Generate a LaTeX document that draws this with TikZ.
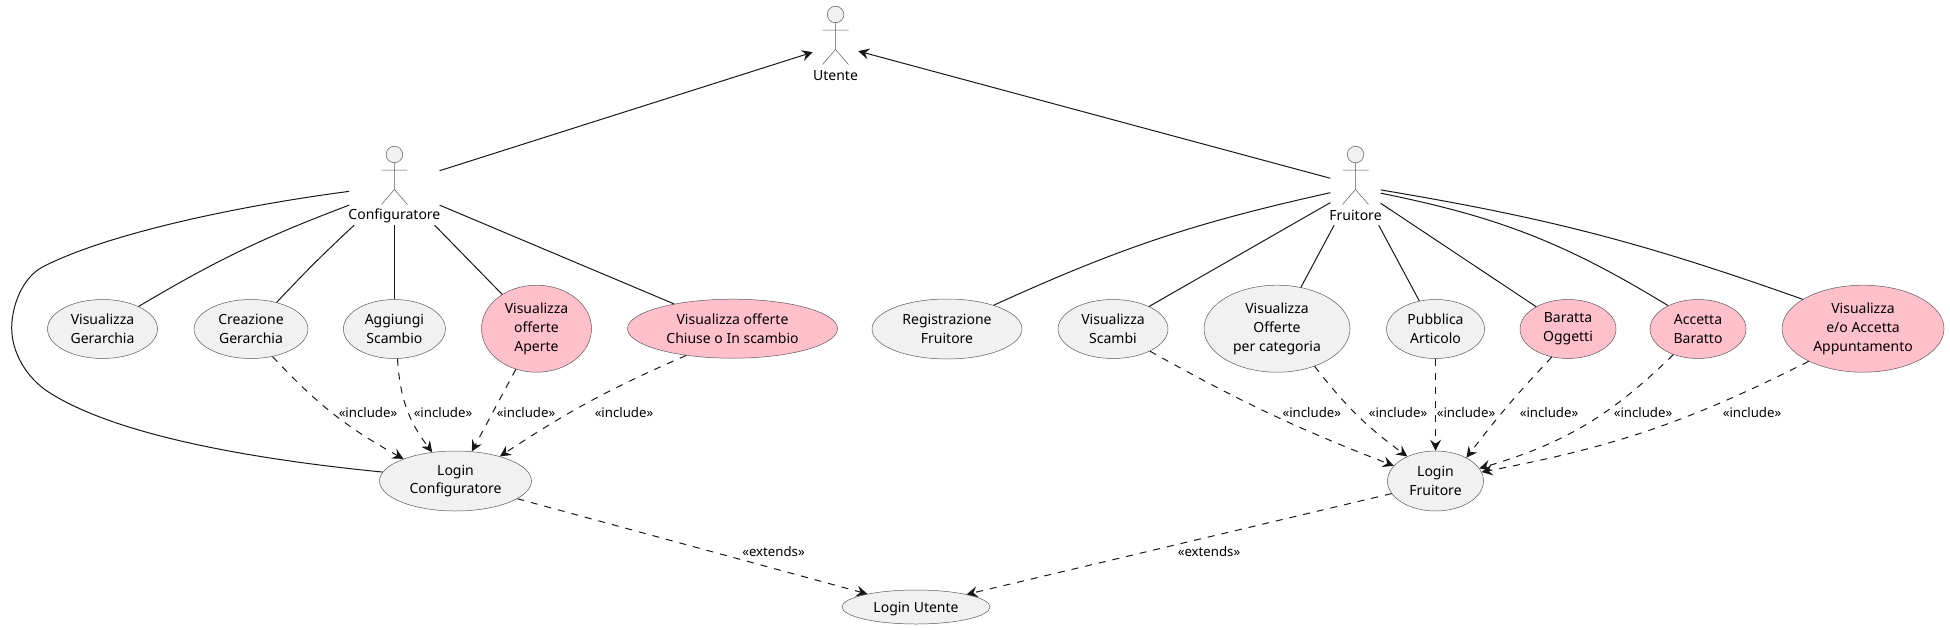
\documentclass[tikz,border=0pt]{standalone}
\usepackage{fontspec}
\setmainfont{Noto Sans}
\usepackage{xcolor}
\usetikzlibrary{arrows.meta,shapes.geometric}
\definecolor{caseline}{HTML}{181818}
\definecolor{caseedge}{HTML}{5A5A5A}
\definecolor{casefill}{HTML}{F1F1F1}
\definecolor{casepink}{HTML}{FFC0CB}
\tikzset{
  usecase/.style ={ellipse, draw=caseedge, fill=casefill, line width=0.5pt, inner sep=0pt},
  pinkcase/.style={usecase, fill=casepink},
  casetext/.style={align=center, inner sep=0pt, font=\fontsize{14}{18.7}\selectfont},
  actorbox/.style={rectangle, minimum height=80pt, inner sep=0pt},
  stereo/.style  ={inner sep=0pt, font=\fontsize{13.2}{16}\selectfont},
  assoc/.style   ={draw=caseline, line width=1pt},
  incl/.style    ={draw=caseline, line width=1pt, dash pattern=on 7pt off 7pt, -{Stealth[length=11pt,width=11pt,inset=4pt]}},
  gen/.style     ={draw=caseline, line width=1pt, -{Stealth[length=11pt,width=11pt,inset=4pt]}},
}
\newcommand{\stickman}[2]{%
  \draw[draw=caseedge, line width=0.5pt, fill=casefill] (#1,#2) circle[radius=8.3pt];
  \draw[draw=caseedge, line width=0.5pt] (#1-13,#2+15.5) -- (#1+13,#2+15.5)
     (#1,#2+8.3) -- (#1,#2+35) (#1-13,#2+50) -- (#1,#2+35) -- (#1+13,#2+50);}
\begin{document}
\begin{tikzpicture}[x=1pt,y=-1pt]
\useasboundingbox (0,0) rectangle (1950,629);
\foreach \n/\x/\y/\w/\lab in {Utente/835.5/45/45/Utente, Conf/394.4/185/90/Configuratore, Fruit/1355.5/185/50/Fruitore}
  {\node[actorbox,minimum width=\w pt] (\n) at (\x,\y) {};
   \stickman{\x}{\y-30.5}
   \node[casetext] (\n-label) at (\x,\y+30.7) {\lab};}
\foreach \n/\x/\y/\w/\h/\lab in {%
   VisGer/102.5/329/110/59/{Visualizza\\Gerarchia},
   CreaGer/251/329/114/59/{Creazione\\Gerarchia},
   AggSca/394.4/329/102/59/{Aggiungi\\Scambio},
   RegFru/947/329/150/60/{Registrazione\\Fruitore},
   VisSca/1113/329/110/59/{Visualizza\\Scambi},
   VisOff/1277/328.7/146/87/{Visualizza\\Offerte\\per categoria},
   PubArt/1435.5/329/98/59/{Pubblica\\Articolo},
   LogConf/455.5/481/152/60/{Login\\Configuratore},
   LogFru/1435.5/481/96/60/{Login\\Fruitore}}
  {\node[usecase,minimum width=\w pt,minimum height=\h pt,label={[casetext]center:\lab}] (\n) at (\x,\y) {};}
\node[usecase,minimum width=148pt,minimum height=34pt,label={[casetext,yshift=-1.8pt]center:Login Utente}] (LogUt) at (916,607) {};
\foreach \n/\x/\y/\w/\h/\lab in {%
   VisAp/536.5/328.7/110/87/{Visualizza\\offerte\\Aperte},
   VisCh/732.5/328.7/210/59/{Visualizza offerte\\Chiuse o In scambio},
   BarOgg/1568/329/96/59/{Baratta\\Oggetti},
   AccBar/1698/329/96/59/{Accetta\\Baratto},
   VisApp/1863/328.7/162/87/{Visualizza\\e/o Accetta\\Appuntamento}}
  {\node[pinkcase,minimum width=\w pt,minimum height=\h pt,label={[casetext]center:\lab}] (\n) at (\x,\y) {};}
\foreach \n/\x/\y/\lab in {%
   inc1/368/412.7/«include», inc2/443/412.7/«include», inc3/526/412.7/«include», inc4/624/412.7/«include»,
   inc5/1311.8/412.7/«include», inc6/1398/412.7/«include», inc7/1466/412.7/«include», inc8/1549/412.7/«include»,
   inc9/1643/412.7/«include», inc10/1752/412.7/«include», ext1/773.5/552/«extends», ext2/1209/552/«extends»}
  {\node[stereo] (\n) at (\x,\y) {\lab};}
\draw[gen] (Conf) -- (Utente);
\draw[gen] (Fruit) -- (Utente);
\draw[assoc] (Conf.188) .. controls (230,207) and (105,235) .. (43,266.7)
   .. controls (23,277) and (11.7,305) .. (11.7,328)
   .. controls (11.7,352) and (26,378) .. (50,393)
   .. controls (120,437) and (260,460) .. (LogConf.173);
\foreach \a/\aa/\b/\ba/\s in {%
   Conf/204/VisGer/32/5, Conf/225/CreaGer/46/2, Conf/-90/AggSca/90/0,
   Conf/-45/VisAp/135/0, Conf/-24/VisCh/157/0,
   Fruit/197/RegFru/27/6, Fruit/215/VisSca/32/0, Fruit/-118/VisOff/60/0,
   Fruit/-60/PubArt/120/0, Fruit/-36/BarOgg/145/0}
  {\draw[assoc] (\a.\aa) to[bend right=\s] (\b.\ba);}
\draw[assoc] (Fruit.-18) to[bend left=10] (AccBar.142);
\draw[assoc] (Fruit.-11) to[bend left=5] (VisApp.154);
\foreach \a/\aa/\b/\ba/\s in {%
   CreaGer/-52/LogConf/157/9, AggSca/-84/LogConf/129/17, VisAp/-117/LogConf/61/0,
   VisCh/210/LogConf/29/5, VisSca/-31/LogFru/160/4, VisOff/-45/LogFru/139/8,
   PubArt/-90/LogFru/90/0, BarOgg/-120/LogFru/37/3,
   LogConf/-16/LogUt/165/0, LogFru/196/LogUt/14/0}
  {\draw[incl] (\a.\aa) to[bend right=\s] (\b.\ba);}
\draw[incl] (AccBar.-134) to[bend left=14] (LogFru.16);
\draw[incl] (VisApp.211) to[bend left=8] (LogFru.11);
\end{tikzpicture}
\end{document}
